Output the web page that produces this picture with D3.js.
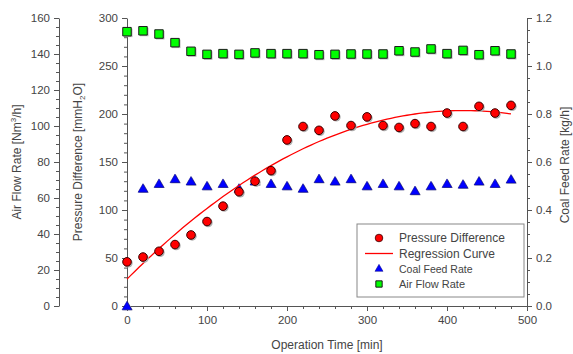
<!DOCTYPE html>
<html><head><meta charset="utf-8">
<script src="https://cdn.jsdelivr.net/npm/d3@7"></script>
<style>
html,body{margin:0;padding:0;background:#fff;}
svg{display:block;font-family:"Liberation Sans",Arial,sans-serif;}
</style></head>
<body><svg id="c" width="573" height="354"></svg>
<script>
const times = [0,20,40,60,80,100,120,140,160,180,200,220,240,260,280,300,320,340,360,380,400,420,440,460,480];
const pressureDiff = [46,51,57,64,74,88,104,119,130,141,173,187,183,198,188,197,188,186,190,187,201,187,208,201,209];
const coalFeed = [0.0,0.49,0.51,0.53,0.52,0.50,0.51,0.49,0.52,0.51,0.50,0.49,0.53,0.52,0.53,0.50,0.51,0.50,0.48,0.50,0.51,0.507,0.52,0.51,0.528];
const airFlow = [152.4,152.9,151.1,146.3,141.5,139.8,140.2,139.8,140.6,140.2,140.2,140.2,139.6,139.8,140,140,140,141.8,141.1,142.8,140.2,142,139.6,141.8,140];
const regCoef = [28, 0.836, -0.000995]; // quadratic regression a + b t + c t^2
const xTicks = [0,100,200,300,400,500];
const pTicks = [0,50,100,150,200,250,300];
const aTicks = [0,20,40,60,80,100,120,140,160];
const cTicks = [0.0,0.2,0.4,0.6,0.8,1.0,1.2];
const legendItems = ["Pressure Difference","Regression Curve","Coal Feed Rate","Air Flow Rate"];

const svg = d3.select("#c");
const L = 127, R = 527, T = 18, B = 306;
const axisCol = "#555", textCol = "#444";
const x = d3.scaleLinear().domain([0,500]).range([L,R]);
const yP = d3.scaleLinear().domain([0,300]).range([B,T]);
const yA = d3.scaleLinear().domain([0,160]).range([B,T]);
const yC = d3.scaleLinear().domain([0,1.2]).range([B,T]);

function styleAxis(g){
  g.selectAll("path,line").attr("stroke",axisCol);
  g.selectAll("text").attr("fill",textCol).style("font-size","11.5px").style("font-family","Liberation Sans, Arial, sans-serif");
}
function minor(g, scale, vals, orient){
  const ax = orient(scale).tickValues(vals).tickSize(3).tickFormat("");
  g.call(ax); g.select(".domain").remove(); g.selectAll("line").attr("stroke",axisCol);
}
// bottom axis
const gx = svg.append("g").attr("transform",`translate(0,${B})`);
minor(gx.append("g"), x, d3.range(0,501,20), d3.axisBottom);
gx.append("g").call(d3.axisBottom(x).tickValues(xTicks).tickSize(5).tickSizeOuter(0).tickPadding(5)).call(styleAxis);
// inner left axis
const gp = svg.append("g").attr("transform",`translate(${L},0)`);
minor(gp.append("g"), yP, d3.range(0,301,10), d3.axisLeft);
gp.append("g").call(d3.axisLeft(yP).tickValues(pTicks).tickSize(5).tickSizeOuter(0).tickPadding(4)).call(styleAxis);
// outer left axis
const ga = svg.append("g").attr("transform",`translate(59,0)`);
minor(ga.append("g"), yA, d3.range(0,161,5), d3.axisLeft);
ga.append("g").call(d3.axisLeft(yA).tickValues(aTicks).tickSize(5).tickSizeOuter(0).tickPadding(4)).call(styleAxis);
// right axis
const gc = svg.append("g").attr("transform",`translate(${R},0)`);
minor(gc.append("g"), yC, d3.range(0,1.2001,0.05), d3.axisRight);
gc.append("g").call(d3.axisRight(yC).tickValues(cTicks).tickSize(5).tickSizeOuter(0).tickPadding(4).tickFormat(d3.format(".1f"))).call(styleAxis);

// axis titles
svg.append("text").attr("x",(L+R)/2).attr("y",349).attr("text-anchor","middle")
  .attr("fill",textCol).style("font-size","12px").text("Operation Time [min]");
const tA = svg.append("text").attr("transform",`translate(21,162) rotate(-90)`).attr("text-anchor","middle")
  .attr("fill",textCol).style("font-size","12px");
tA.append("tspan").text("Air Flow Rate [Nm");
tA.append("tspan").attr("dy",-5).style("font-size","8px").text("3");
tA.append("tspan").attr("dy",5).text("/h]");
const tP = svg.append("text").attr("transform",`translate(82,162) rotate(-90)`).attr("text-anchor","middle")
  .attr("fill",textCol).style("font-size","12px");
tP.append("tspan").text("Pressure Difference [mmH");
tP.append("tspan").attr("dy",3).style("font-size","8px").text("2");
tP.append("tspan").attr("dy",-3).text("O]");
svg.append("text").attr("transform",`translate(569,165) rotate(-90)`).attr("text-anchor","middle")
  .attr("fill",textCol).style("font-size","12px").text("Coal Feed Rate [kg/h]");

// markers
const shadow = "#b0b0b0";
const plot = svg.append("g");
const sq = d3.symbol().type(d3.symbolSquare).size(72)();
const tri = d3.symbol().type(d3.symbolTriangle).size(42)();
// air flow squares
plot.selectAll(".sqs").data(times).join("path").attr("d",sq)
  .attr("transform",(d,i)=>`translate(${x(d)+1.2},${yA(airFlow[i])+1.2})`).attr("fill",shadow);
plot.selectAll(".sq").data(times).join("path").attr("d",sq)
  .attr("transform",(d,i)=>`translate(${x(d)},${yA(airFlow[i])})`)
  .attr("fill","#00ff00").attr("stroke","#1a1a1a").attr("stroke-width",1);
// coal triangles
plot.selectAll(".trs").data(times).join("path").attr("d",tri)
  .attr("transform",(d,i)=>`translate(${x(d)+1},${yC(coalFeed[i])+1.5})`).attr("fill",shadow);
plot.selectAll(".tr").data(times).join("path").attr("d",tri)
  .attr("transform",(d,i)=>`translate(${x(d)},${yC(coalFeed[i])+1})`)
  .attr("fill","#0000ff").attr("stroke","#000080").attr("stroke-width",0.6);
// regression curve
const tt = d3.range(0,481,5);
plot.append("path").datum(tt).attr("fill","none").attr("stroke","#ff0000").attr("stroke-width",1.3)
  .attr("d",d3.line().x(d=>x(d)).y(d=>yP(regCoef[0]+regCoef[1]*d+regCoef[2]*d*d)));
// pressure circles
plot.selectAll(".cis").data(times).join("circle").attr("cx",d=>x(d)+1.2).attr("cy",(d,i)=>yP(pressureDiff[i])+1.2)
  .attr("r",4.5).attr("fill",shadow);
plot.selectAll(".ci").data(times).join("circle").attr("cx",d=>x(d)).attr("cy",(d,i)=>yP(pressureDiff[i]))
  .attr("r",4.3).attr("fill","#ff0000").attr("stroke","#3a0000").attr("stroke-width",1);

// legend
const lg = svg.append("g");
lg.append("rect").attr("x",357).attr("y",224).attr("width",167).attr("height",73)
  .attr("fill","#fff").attr("stroke","#888").attr("stroke-width",1);
const ly = [238,253.5,269,284];
const lsz = ["12px","12px","10.5px","11px"];
lg.selectAll(".lt").data(legendItems).join("text").attr("x",399).attr("y",(d,i)=>ly[i]+4)
  .attr("fill",textCol).style("font-size",(d,i)=>lsz[i]).text(d=>d);
lg.append("circle").attr("cx",379).attr("cy",ly[0]).attr("r",3.8).attr("fill","#ff0000").attr("stroke","#3a0000").attr("stroke-width",0.8);
lg.append("line").attr("x1",365).attr("x2",393).attr("y1",ly[1]).attr("y2",ly[1]).attr("stroke","#ff0000").attr("stroke-width",1.3);
lg.append("path").attr("d",d3.symbol().type(d3.symbolTriangle).size(28)()).attr("transform",`translate(379,${ly[2]})`)
  .attr("fill","#0000ff").attr("stroke","#000080").attr("stroke-width",0.5);
lg.append("path").attr("d",d3.symbol().type(d3.symbolSquare).size(40)()).attr("transform",`translate(379,${ly[3]})`)
  .attr("fill","#00ff00").attr("stroke","#1a1a1a").attr("stroke-width",1);
</script></body></html>
